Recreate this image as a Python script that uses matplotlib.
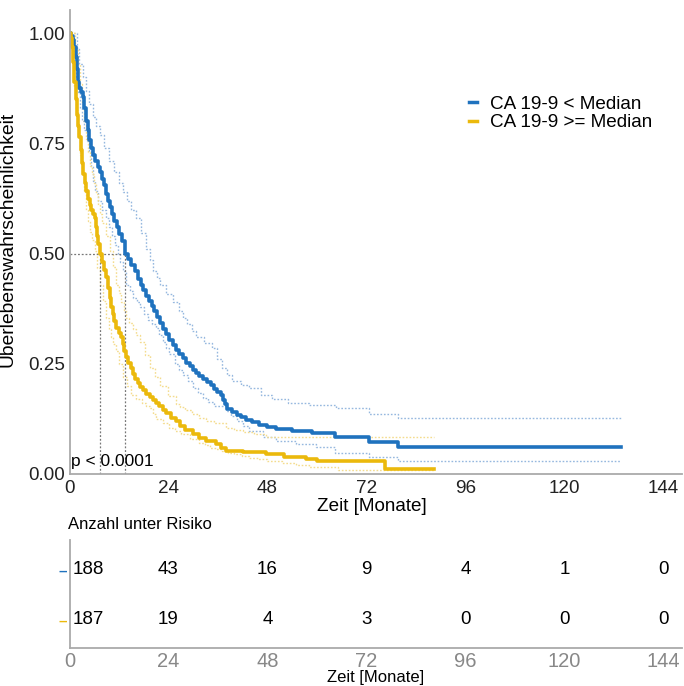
import matplotlib
matplotlib.use("Agg")
import matplotlib.pyplot as plt
from matplotlib.lines import Line2D
from matplotlib import font_manager

# ---------------- data ----------------
group_labels = ["CA 19-9 < Median", "CA 19-9 >= Median"]

blue_t = [0, 0.4, 0.8, 1.2, 1.5, 1.8, 2.0, 2.3, 2.8, 3.2, 3.6, 4.0, 4.4, 4.8, 5.3, 5.8, 6.3,
          6.8, 7.3, 7.8, 8.3, 8.9, 9.4, 9.9, 10.4, 10.9, 11.5, 12.1, 12.7, 13.5, 14.2, 15.0,
          15.8, 16.6, 17.3, 17.9, 18.6, 19.3, 20.0, 20.6, 21.3, 22.0, 22.7, 23.4, 24.2, 25.0,
          25.8, 26.6, 27.4, 28.3, 29.1, 29.9, 30.7, 31.5, 32.4, 33.3, 34.3, 35.0, 35.8, 36.7,
          37.3, 37.8, 38.3, 39.3, 40.5, 41.6, 42.8, 44.3, 46.0, 48.0, 50.0, 54.0, 58.9, 64.4,
          72.6, 79.6, 133.6]
blue_s = [1.0, 0.995, 0.984, 0.968, 0.947, 0.92, 0.89, 0.877, 0.866, 0.855, 0.83, 0.80, 0.78,
          0.757, 0.74, 0.725, 0.71, 0.696, 0.685, 0.67, 0.655, 0.636, 0.62, 0.605, 0.59, 0.575,
          0.56, 0.545, 0.528, 0.50, 0.488, 0.474, 0.46, 0.443, 0.43, 0.418, 0.405, 0.393, 0.382,
          0.37, 0.356, 0.343, 0.33, 0.318, 0.304, 0.292, 0.282, 0.273, 0.264, 0.253, 0.244,
          0.236, 0.229, 0.222, 0.215, 0.209, 0.202, 0.193, 0.186, 0.179, 0.168, 0.158, 0.148,
          0.141, 0.135, 0.129, 0.123, 0.118, 0.112, 0.107, 0.102, 0.097, 0.092, 0.084, 0.073,
          0.062, 0.062]

blue_up_t = [0, 1.0, 1.7, 2.4, 3.2, 4.0, 4.8, 5.6, 6.4, 7.3, 8.4, 9.5, 10.8, 12.1, 13.0, 14.0,
             15.0, 16.1, 17.3, 18.5, 19.4, 20.2, 21.1, 22.0, 23.4, 25.0, 26.6, 27.5, 28.5,
             29.6, 30.6, 32.5, 34.5, 35.8, 37.0, 38.2, 39.5, 41.5, 43.6, 46.5, 49.2, 53.0, 58.1,
             64.6, 72.6, 79.6, 133.6]
blue_up_s = [1.0, 1.0, 0.965, 0.93, 0.9, 0.87, 0.84, 0.81, 0.79, 0.77, 0.74, 0.71, 0.685, 0.66,
             0.64, 0.62, 0.60, 0.582, 0.546, 0.51, 0.485, 0.46, 0.445, 0.43, 0.408, 0.39, 0.37,
             0.355, 0.34, 0.325, 0.31, 0.297, 0.285, 0.262, 0.24, 0.225, 0.21, 0.203, 0.196,
             0.18, 0.17, 0.16, 0.157, 0.149, 0.136, 0.127, 0.127]

blue_lo_t = [0, 0.7, 1.1, 1.5, 2.0, 2.5, 3.0, 3.5, 4.2, 4.8, 5.2, 5.6, 6.3, 7.0, 8.0, 8.9, 9.5,
             10.2, 11.0, 11.7, 12.3, 12.9, 13.7, 14.6, 15.5, 16.3, 17.0, 18.0, 19.0, 20.0,
             21.0, 21.8, 22.6, 23.4, 24.2, 25.5, 26.5, 27.4, 28.7, 30.0, 31.2, 32.3, 33.6,
             35.0, 37.9, 39.2, 40.5, 42.0, 43.6, 47.0, 50.0, 55.0, 59.7, 64.4, 72.6, 79.6,
             133.6]
blue_lo_s = [1.0, 0.96, 0.93, 0.90, 0.865, 0.83, 0.80, 0.78, 0.755, 0.734, 0.70, 0.666, 0.643,
             0.62, 0.60, 0.582, 0.56, 0.54, 0.52, 0.50, 0.48, 0.46, 0.43, 0.415, 0.40, 0.39,
             0.378, 0.364, 0.35, 0.34, 0.332, 0.316, 0.30, 0.286, 0.272, 0.25, 0.237, 0.225,
             0.21, 0.195, 0.184, 0.173, 0.163, 0.155, 0.143, 0.131, 0.12, 0.109, 0.098, 0.085,
             0.075, 0.068, 0.062, 0.048, 0.038, 0.030, 0.030]

yel_t = [0, 0.3, 0.6, 0.9, 1.2, 1.5, 1.8, 2.1, 2.4, 2.7, 3.0, 3.3, 3.7, 4.1, 4.5, 4.9, 5.3, 5.7,
         6.1, 6.4, 6.7, 7.0, 7.4, 7.9, 8.4, 8.9, 9.3, 9.7, 10.1, 10.5, 10.9, 11.3, 11.9, 12.5,
         12.9, 13.3, 13.8, 14.3, 14.8, 15.3, 15.9, 16.5, 17.1, 17.7, 18.5, 19.4, 20.2, 21.0,
         21.8, 22.7, 23.5, 24.5, 25.8, 26.9, 28.0, 29.9, 31.4, 33.0, 35.5, 36.7, 37.9, 42.0,
         47.6, 52.0, 57.3, 60.0, 76.5, 88.4]
yel_s = [1.0, 0.99, 0.97, 0.935, 0.89, 0.85, 0.815, 0.79, 0.764, 0.735, 0.705, 0.68, 0.66,
         0.643, 0.625, 0.61, 0.598, 0.59, 0.582, 0.56, 0.54, 0.522, 0.50, 0.48, 0.463, 0.446,
         0.423, 0.40, 0.378, 0.362, 0.347, 0.332, 0.32, 0.31, 0.295, 0.28, 0.265, 0.252, 0.24,
         0.227, 0.216, 0.206, 0.197, 0.19, 0.182, 0.175, 0.167, 0.162, 0.155, 0.146, 0.138,
         0.128, 0.12, 0.11, 0.10, 0.09, 0.082, 0.075, 0.067, 0.06, 0.052, 0.049, 0.045, 0.038,
         0.033, 0.03, 0.012, 0.012]

yel_up_t = [0, 0.8, 1.4, 2.0, 2.5, 3.0, 3.5, 4.0, 4.5, 5.0, 5.5, 6.0, 6.5, 7.0, 7.5, 8.0, 8.8,
            9.7, 10.5, 11.3, 11.9, 12.5, 13.1, 13.7, 14.5, 15.3, 16.2, 17.0, 18.2, 19.4, 20.7,
            22.0, 23.9, 25.8, 26.9, 28.0, 29.7, 31.5, 33.2, 35.0, 37.9, 40.0, 42.0, 44.8, 47.6,
            88.4]
yel_up_s = [1.0, 1.0, 0.965, 0.93, 0.885, 0.84, 0.80, 0.76, 0.73, 0.70, 0.68, 0.66, 0.635,
            0.61, 0.59, 0.57, 0.54, 0.507, 0.47, 0.43, 0.41, 0.39, 0.372, 0.355, 0.342, 0.33,
            0.315, 0.30, 0.27, 0.24, 0.22, 0.20, 0.178, 0.158, 0.151, 0.145, 0.136, 0.128,
            0.121, 0.115, 0.105, 0.1, 0.095, 0.09, 0.085, 0.085]

yel_lo_t = [0, 0.5, 1.0, 1.5, 2.0, 2.5, 3.0, 3.5, 4.0, 4.5, 5.0, 5.5, 6.1, 6.7, 7.3, 8.1, 8.9,
            9.5, 10.0, 10.6, 11.3, 12.1, 12.9, 14.0, 15.0, 16.2, 17.5, 18.5, 19.4, 20.2, 21.0,
            22.6, 24.2, 25.6, 27.0, 29.2, 31.5, 32.8, 34.0, 35.5, 37.0, 38.5, 40.0, 41.8, 43.6,
            45.8, 48.0, 51.6, 55.0, 58.0, 65.0, 88.4]
yel_lo_s = [1.0, 0.95, 0.88, 0.825, 0.77, 0.725, 0.68, 0.64, 0.60, 0.575, 0.55, 0.53, 0.507,
            0.468, 0.43, 0.392, 0.355, 0.33, 0.31, 0.295, 0.28, 0.25, 0.22, 0.20, 0.18, 0.17,
            0.16, 0.155, 0.15, 0.137, 0.125, 0.115, 0.105, 0.097, 0.09, 0.08, 0.071, 0.065,
            0.06, 0.056, 0.052, 0.048, 0.045, 0.041, 0.037, 0.033, 0.03, 0.026, 0.02, 0.015,
            0.009, 0.009]

median_blue = 13.5
median_yel = 7.4

risk_times = [0, 24, 48, 72, 96, 120, 144]
risk_blue = [188, 43, 16, 9, 4, 1, 0]
risk_yel = [187, 19, 4, 3, 0, 0, 0]

p_text = "p < 0.0001"
x_ticks = [0, 24, 48, 72, 96, 120, 144]
y_ticks = [0.0, 0.25, 0.5, 0.75, 1.0]
y_ticklabels = ["0.00", "0.25", "0.50", "0.75", "1.00"]

# ---------------- style ----------------
avail = {f.name for f in font_manager.fontManager.ttflist}
base_font = "Liberation Sans" if "Liberation Sans" in avail else "DejaVu Sans"
plt.rcParams["font.family"] = [base_font, "DejaVu Sans"]

BLUE = "#1F72BE"
YEL = "#EBB90C"
BLUE_CI = "#96B8DF"
YEL_CI = "#F4DC8E"
SPINE = "#AAAAAA"
FS = 13.6

fig = plt.figure(figsize=(6.84, 6.86), dpi=100)
W, H = 684, 686
ax_left = 69.5 / W
ax_w = (682 - 69.5) / W
ax = fig.add_axes([ax_left, 1 - 474 / H, ax_w, (474 - 10) / H])
axt = fig.add_axes([ax_left, 1 - 648 / H, ax_w, (648 - 540) / H])

# CIs
ci_ls = (0, (1.2, 1.3))
ax.step(blue_up_t, blue_up_s, where="post", color=BLUE_CI, lw=1.0, ls=ci_ls)
ax.step(blue_lo_t, blue_lo_s, where="post", color=BLUE_CI, lw=1.0, ls=ci_ls)
ax.step(yel_up_t, yel_up_s, where="post", color=YEL_CI, lw=1.0, ls=ci_ls)
ax.step(yel_lo_t, yel_lo_s, where="post", color=YEL_CI, lw=1.0, ls=ci_ls)

# median lines
med_ls = (0, (1.5, 1.5))
ax.plot([0, median_blue], [0.5, 0.5], color="#777777", lw=0.9, ls=med_ls)
ax.plot([median_yel, median_yel], [0, 0.5], color="#777777", lw=0.9, ls=med_ls)
ax.plot([median_blue, median_blue], [0, 0.5], color="#777777", lw=0.9, ls=med_ls)

# survival curves
ax.step(blue_t, blue_s, where="post", color=BLUE, lw=2.6)
ax.step(yel_t, yel_s, where="post", color=YEL, lw=2.6)

ax.set_xlim(0, 148.5)
ax.set_ylim(0, 1.053)
ax.set_xticks(x_ticks)
ax.set_yticks(y_ticks)
ax.set_yticklabels(y_ticklabels)
ax.tick_params(axis="both", length=0, labelsize=FS, colors="#222222")
ax.tick_params(axis="x", pad=4)
ax.tick_params(axis="y", pad=3)
for s in ["top", "right"]:
    ax.spines[s].set_visible(False)
for s in ["left", "bottom"]:
    ax.spines[s].set_color(SPINE)
    ax.spines[s].set_linewidth(1.3)

ax.set_ylabel("Überlebenswahrscheinlichkeit", fontsize=13.9)
ax.yaxis.set_label_coords(-0.086, 0.505)
ax.set_xlabel("Zeit [Monate]", fontsize=FS)
ax.xaxis.set_label_coords(0.494, -0.052)

ax.text(0.3, 0.028, p_text, fontsize=12.5, ha="left", va="center")

handles = [Line2D([], [], color=BLUE, lw=2.5), Line2D([], [], color=YEL, lw=2.5)]
ax.legend(handles, group_labels, loc="upper left", bbox_to_anchor=(0.652, 0.816),
          frameon=False, fontsize=FS, handlelength=0.45, handletextpad=0.65,
          labelspacing=0.07, borderpad=0, borderaxespad=0)

# ---------------- risk table ----------------
rows = [(2, risk_blue, BLUE), (1, risk_yel, YEL)]
for y, vals, col in rows:
    for t, v in zip(risk_times, vals):
        if t == 0:
            axt.text(t + 0.8, y, str(v), ha="left", va="center", fontsize=13.5)
        else:
            axt.text(t, y, str(v), ha="center", va="center", fontsize=13.5)
axt.set_xlim(0, 148.5)
axt.set_ylim(0.44, 2.60)
axt.set_xticks(x_ticks)
axt.set_xticklabels([str(t) for t in x_ticks])
axt.set_yticks([2, 1])
axt.set_yticklabels(["\u2013", "\u2013"], fontweight="bold", fontsize=11)
for lab, (_, _, col) in zip(axt.get_yticklabels(), rows):
    lab.set_color(col)
axt.tick_params(axis="both", length=0)
axt.tick_params(axis="x", labelsize=14.5, colors="#888888", pad=3)
axt.tick_params(axis="y", pad=2)
for s in ["top", "right"]:
    axt.spines[s].set_visible(False)
for s in ["left", "bottom"]:
    axt.spines[s].set_color(SPINE)
    axt.spines[s].set_linewidth(1.3)
axt.set_xlabel("Zeit [Monate]", fontsize=12, labelpad=-1)
axt.text(-0.002, 1.145, "Anzahl unter Risiko", transform=axt.transAxes, ha="left",
         va="center", fontsize=12)

fig.savefig("out.png", dpi=100)
